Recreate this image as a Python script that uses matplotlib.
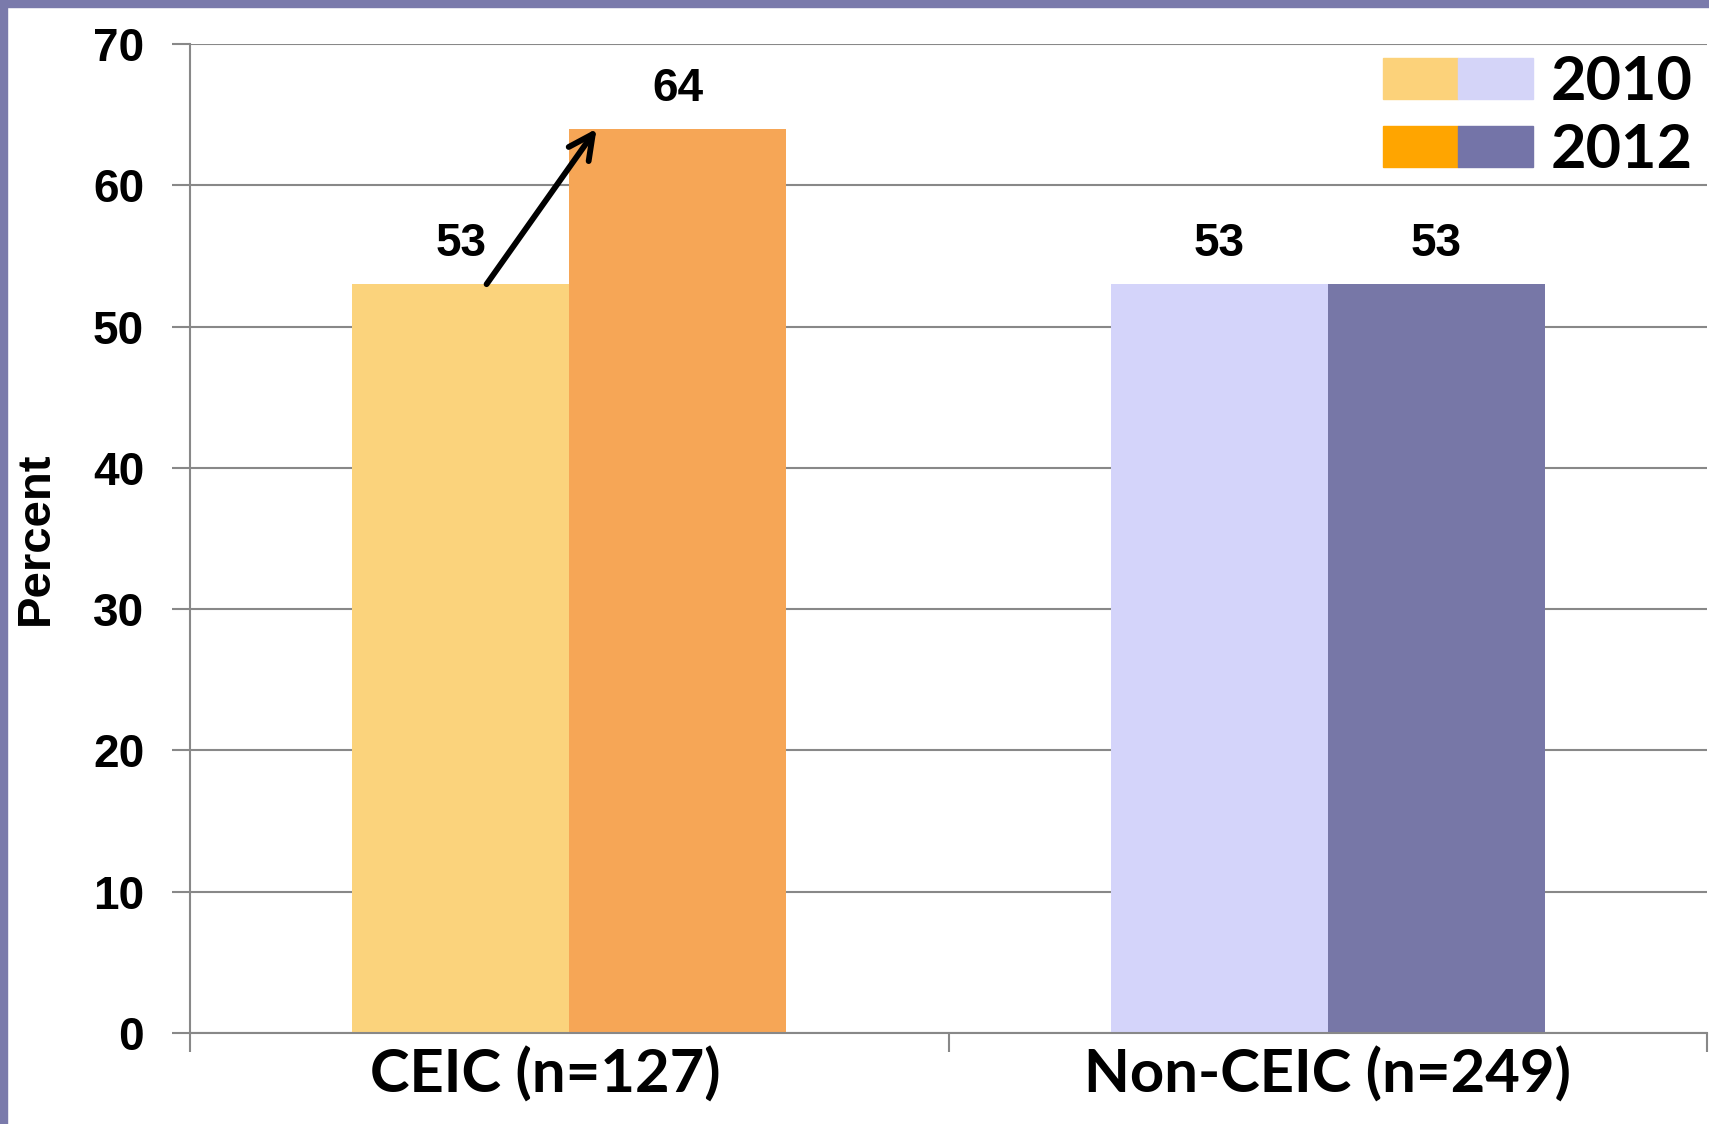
import matplotlib
matplotlib.use("Agg")
import matplotlib.pyplot as plt
import matplotlib.transforms as mtransforms
from matplotlib.patches import Patch, Rectangle
from matplotlib.legend_handler import HandlerTuple
import numpy as np

# survey results, percent of respondents
groups = ["CEIC (n=127)", "Non-CEIC (n=249)"]
years = ["2010", "2012"]
pct_2010 = [53, 53]
pct_2012 = [64, 53]

# bar colours per group: (2010, 2012)
bar_colors = [("#FBD37C", "#F6A656"), ("#D4D4FA", "#7777A7")]
legend_colors = [("#FCD27A", "#D4D4F8"), ("#FFA500", "#7474A8")]
frame_color = "#7A7AAB"
grid_color = "#888888"

label_font = "Liberation Sans"
title_font = "Lato"


def main():
    fig = plt.figure(figsize=(17.09, 11.24), dpi=100)
    ax = fig.add_axes([190 / 1709, 91 / 1124, 1517 / 1709, 989 / 1124])

    x = np.arange(len(groups))
    width = 0.286

    bars_2010 = ax.bar(x - width / 2, pct_2010, width,
                       color=[c[0] for c in bar_colors], zorder=2)
    bars_2012 = ax.bar(x + width / 2, pct_2012, width,
                       color=[c[1] for c in bar_colors], zorder=2)

    # value labels above each bar
    for bars in (bars_2010, bars_2012):
        for b in bars:
            ax.annotate(f"{b.get_height():.0f}",
                        (b.get_x() + b.get_width() / 2, b.get_height()),
                        xytext=(0, 20), textcoords="offset points",
                        ha="center", va="baseline", fontsize=33,
                        fontweight="bold", family=label_font)

    # arrow showing the CEIC increase
    ax.annotate("", xy=(x[0] + 0.036, pct_2012[0]),
                xytext=(x[0] - width / 2 + 0.034, pct_2010[0]),
                arrowprops=dict(arrowstyle="->", color="black", lw=4.2,
                                mutation_scale=44, shrinkA=0, shrinkB=0),
                zorder=4)

    ax.set_xlim(-0.5, 1.5)
    ax.set_ylim(0, 70)
    ax.set_yticks(np.arange(0, 71, 10))
    ax.yaxis.grid(True, color=grid_color, linewidth=1.5, zorder=0)
    ax.set_axisbelow(True)

    # category ticks sit between the groups
    ax.set_xticks([-0.5, 0.5, 1.5])
    ax.set_xticklabels([])
    ax.set_xticks(x, minor=True)
    ax.set_xticklabels(groups, minor=True, fontsize=43, fontweight="bold",
                       family=title_font)
    ax.tick_params(axis="x", which="minor", length=0, pad=10)
    ax.tick_params(axis="x", which="major", length=14, width=1.5,
                   color=grid_color)
    ax.tick_params(axis="y", length=13, width=1.5, color=grid_color, pad=20,
                   labelsize=33)
    for lab in ax.get_yticklabels():
        lab.set_fontweight("bold")
        lab.set_family(label_font)

    # nudge the first category label a little to the left
    first = ax.xaxis.get_minorticklabels()[0]
    first.set_transform(first.get_transform() +
                        mtransforms.ScaledTranslation(-24 / 100, 0, fig.dpi_scale_trans))

    for side in ("top", "right"):
        ax.spines[side].set_visible(False)
    ax.spines["left"].set_color(grid_color)
    ax.spines["left"].set_linewidth(1.5)
    ax.spines["bottom"].set_color(grid_color)
    ax.spines["bottom"].set_linewidth(1.5)

    ax.set_ylabel("Percent", fontsize=34, fontweight="bold", family=label_font)
    ax.yaxis.set_label_coords(-0.087, 0.5)

    # two-colour legend swatches: CEIC colour + Non-CEIC colour
    handles = [(Patch(color=c[0]), Patch(color=c[1])) for c in legend_colors]
    ax.legend(handles, years, handler_map={tuple: HandlerTuple(ndivide=None, pad=0)},
              loc="upper right", bbox_to_anchor=(1693 / 1709, 1 - 54 / 1124),
              bbox_transform=fig.transFigure, frameon=False,
              prop=dict(family=title_font, weight="bold", size=44),
              handlelength=2.45, handleheight=0.66, handletextpad=0.3,
              labelspacing=0.19, borderpad=0, borderaxespad=0)

    # slide frame along top and left edges
    fig.patches.append(Rectangle((0, 1 - 7 / 1124), 1, 7 / 1124,
                                 transform=fig.transFigure, color=frame_color,
                                 zorder=10))
    fig.patches.append(Rectangle((0, 0), 7 / 1709, 1,
                                 transform=fig.transFigure, color=frame_color,
                                 zorder=10))

    fig.savefig("out.png", dpi=100)
    plt.close(fig)


if __name__ == "__main__":
    main()
